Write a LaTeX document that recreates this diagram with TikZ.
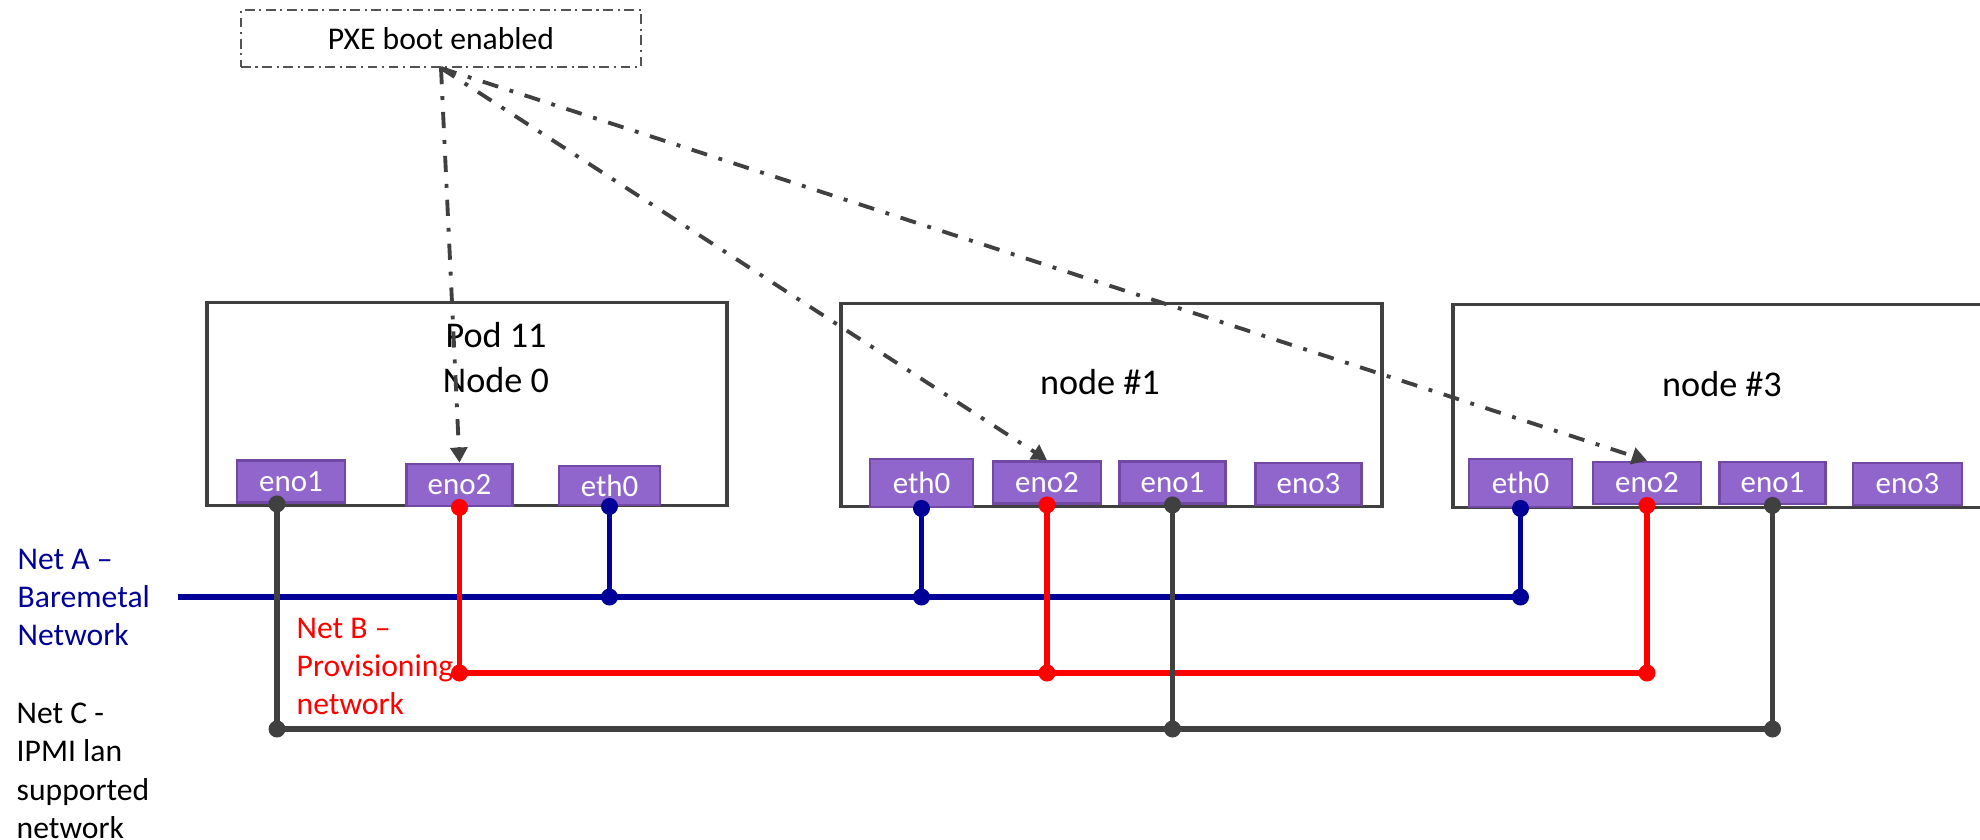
\documentclass[tikz,border=0pt]{standalone}
\usepackage{fontspec}
\setmainfont{Carlito}
\usetikzlibrary{arrows.meta}
\definecolor{netblue}{RGB}{0,0,153}
\definecolor{netred}{RGB}{255,0,0}
\definecolor{netgray}{RGB}{64,64,64}
\definecolor{portfill}{RGB}{145,102,204}
\definecolor{portdraw}{RGB}{113,73,165}

\tikzset{
  hostbox/.style={rectangle, draw=netgray, line width=1.1pt, minimum height=2.03cm, inner sep=0},
  hosttitle/.style={inner sep=0, align=center, font=\fontsize{10.3}{12.8}\selectfont},
  port/.style={rectangle, draw=portdraw, fill=portfill, line width=0.8pt, text=white, minimum width=1.06cm, minimum height=0.42cm, inner sep=0, font=\fontsize{8.8}{10}\selectfont},
  nettext/.style={anchor=north west, align=left, inner sep=0, font=\fontsize{9}{10.95}\selectfont},
  pxearrow/.style={draw=netgray, line width=1.1pt, dash pattern=on 4.6pt off 3.4pt on 1.1pt off 3.4pt, -{Triangle[length=4.3pt,width=4.8pt]}},
  netline/.style={line width=1.6pt},
}

\begin{document}
\begin{tikzpicture}
\useasboundingbox (0,0) rectangle (19.8,-8.39);
\clip (0,0) rectangle (19.8,-8.39);

% hosts
\node[hostbox, minimum width=5.2cm] (pod) at (4.67,-4.04) {};
\node[hostbox, minimum width=5.41cm] (host1) at (11.115,-4.05) {};
\node[hostbox, minimum width=5.47cm] (host3) at (17.265,-4.06) {};
\node[hosttitle, anchor=north] (podtitle) at (4.96,-3.22) {Pod 11\\Node 0};
\node[hosttitle, anchor=base] (host1title) at (11.00,-3.94) {node \#1};
\node[hosttitle, anchor=base] (host3title) at (17.22,-3.96) {node \#3};

% interfaces
\node[port, minimum width=1.08cm] (n0eno1) at (2.91,-4.815) {eno1};
\node[port] (n0eno2) at (4.595,-4.85) {eno2};
\node[port, minimum width=1.01cm, minimum height=0.39cm] (n0eth0) at (6.095,-4.855) {eth0};
\node[port, minimum width=1.03cm, minimum height=0.48cm] (n1eth0) at (9.215,-4.83) {eth0};
\node[port, minimum width=1.08cm] (n1eno2) at (10.47,-4.825) {eno2};
\node[port] (n1eno1) at (11.725,-4.825) {eno1};
\node[port] (n1eno3) at (13.085,-4.84) {eno3};
\node[port, minimum width=1.03cm, minimum height=0.48cm] (n3eth0) at (15.205,-4.83) {eth0};
\node[port, minimum width=1.08cm] (n3eno2) at (16.47,-4.83) {eno2};
\node[port] (n3eno1) at (17.725,-4.83) {eno1};
\node[port, minimum width=1.09cm] (n3eno3) at (19.075,-4.84) {eno3};

% PXE
\node[rectangle, draw=netgray!90, line width=0.6pt, dash pattern=on 2.8pt off 1.3pt on 0.6pt off 1.3pt,
  minimum width=4.0cm, minimum height=0.57cm, inner sep=0, font=\fontsize{9}{10}\selectfont] (pxe) at (4.41,-0.385) {PXE boot enabled};
\draw[pxearrow] (pxe.south) -- (n0eno2.north);
\draw[pxearrow] (pxe.south) -- (n1eno2.north);
\draw[pxearrow] (pxe.south) -- (n3eno2.north);

% networks
\coordinate (netA) at (1.78,-5.97);
\coordinate (netB) at (0,-6.73);
\coordinate (netC) at (0,-7.29);
\coordinate (c0) at ([xshift=-1.4mm]n0eno1.south);

\draw[netline, netblue] (netA) -- (n3eth0.south |- netA);
\foreach \p in {n0eth0.south, n1eth0.south, n3eth0.south} {
  \draw[netline, netblue] (\p) -- (\p |- netA);
  \fill[netblue] (\p) circle (0.085) (\p |- netA) circle (0.085);
}
\draw[netline, netred] (n0eno2.south |- netB) -- (n3eno2.south |- netB);
\foreach \p in {n0eno2.south, n1eno2.south, n3eno2.south} {
  \draw[netline, netred] (\p) -- (\p |- netB);
  \fill[netred] (\p) circle (0.085) (\p |- netB) circle (0.085);
}
\draw[netline, netgray] (c0 |- netC) -- (n3eno1.south |- netC);
\foreach \p in {c0, n1eno1.south, n3eno1.south} {
  \draw[netline, netgray] (\p) -- (\p |- netC);
  \fill[netgray] (\p) circle (0.085) (\p |- netC) circle (0.085);
}

% labels
\node[nettext, text=netblue] (labelA) at (0.17,-5.48) {Net A --\\Baremetal\\Network};
\node[nettext, text=netred] (labelB) at (2.96,-6.17) {Net B --\\Provisioning\\network};
\node[nettext] (labelC) at (0.16,-7.02) {Net C -\\IPMI lan\\supported\\network};
\end{tikzpicture}
\end{document}
